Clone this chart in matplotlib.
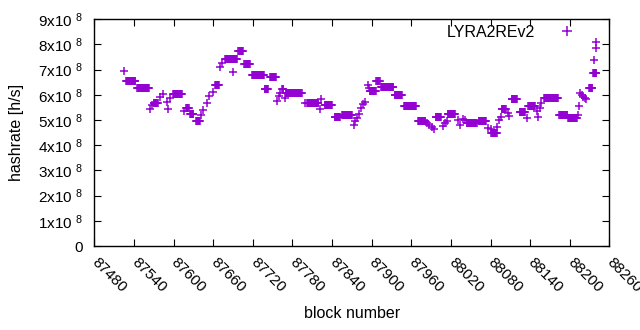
import numpy as np
import matplotlib
matplotlib.use("Agg")
import matplotlib.pyplot as plt

plt.rcParams['font.family'] = ['Liberation Sans', 'DejaVu Sans']
plt.rcParams['mathtext.fontset'] = 'custom'
plt.rcParams['mathtext.rm'] = 'Liberation Sans'
plt.rcParams['mathtext.it'] = 'Liberation Sans'
plt.rcParams['mathtext.default'] = 'regular'

series_name = "LYRA2REv2"
# runs of consecutive blocks sharing the same hashrate (value in units of 1e8 h/s)
run_start = [87525, 87528, 87545, 87564, 87567, 87570, 87579, 87584, 87590, 87591,
             87595, 87599, 87616, 87619, 87625, 87634, 87642, 87645, 87650, 87654,
             87659, 87663, 87670, 87673, 87678, 87690, 87698, 87707, 87719, 87738,
             87746, 87757, 87759, 87761, 87764, 87769, 87770, 87799, 87802, 87821,
             87824, 87829, 87844, 87855, 87873, 87875, 87878, 87881, 87884, 87887,
             87890, 87894, 87896, 87897, 87907, 87914, 87935, 87949, 87970, 87983,
             87987, 87991, 87994, 87997, 88008, 88011, 88014, 88015, 88031, 88034,
             88038, 88041, 88044, 88062, 88076, 88080, 88081, 88090, 88093, 88096,
             88097, 88106, 88108, 88112, 88124, 88135, 88137, 88150, 88152, 88155,
             88157, 88161, 88184, 88197, 88212, 88214, 88216, 88218, 88220, 88223,
             88225, 88229, 88235, 88237, 88239, 88240]
run_end = [87525, 87542, 87563, 87564, 87567, 87576, 87579, 87584, 87590, 87591,
           87595, 87613, 87616, 87623, 87630, 87640, 87642, 87645, 87650, 87654,
           87659, 87669, 87670, 87673, 87696, 87690, 87705, 87716, 87737, 87743,
           87755, 87757, 87759, 87761, 87766, 87769, 87794, 87799, 87819, 87821,
           87824, 87840, 87852, 87870, 87873, 87875, 87878, 87881, 87884, 87887,
           87890, 87894, 87896, 87906, 87912, 87933, 87946, 87967, 87981, 87983,
           87987, 87991, 87994, 88005, 88008, 88011, 88014, 88026, 88031, 88034,
           88038, 88041, 88059, 88073, 88076, 88080, 88089, 88090, 88093, 88096,
           88103, 88106, 88108, 88120, 88132, 88135, 88147, 88150, 88152, 88155,
           88157, 88182, 88196, 88211, 88212, 88214, 88216, 88218, 88220, 88223,
           88225, 88234, 88240, 88237, 88239, 88240]
run_value = [6.96, 6.54, 6.29, 5.44, 5.60, 5.69, 5.92, 6.02, 5.72, 5.44,
             5.86, 6.03, 5.36, 5.46, 5.22, 4.98, 5.20, 5.40, 5.69, 5.95,
             6.11, 6.39, 7.09, 7.27, 7.42, 6.89, 7.74, 7.22, 6.77, 6.23,
             6.69, 5.77, 5.95, 6.07, 6.22, 5.86, 6.09, 5.67, 5.69, 5.42,
             5.83, 5.60, 5.11, 5.19, 4.80, 4.96, 5.08, 5.23, 5.48, 5.63,
             5.71, 6.39, 6.27, 6.14, 6.55, 6.31, 5.99, 5.54, 4.97, 4.87,
             4.80, 4.73, 4.63, 5.13, 4.76, 4.88, 4.96, 5.24, 5.00, 4.80,
             5.04, 5.00, 4.87, 4.96, 4.70, 4.64, 4.47, 4.72, 5.00, 5.12,
             5.42, 5.28, 5.17, 5.82, 5.33, 5.09, 5.56, 5.37, 5.11, 5.46,
             5.66, 5.86, 5.19, 5.09, 5.20, 5.56, 6.06, 6.01, 5.92, 5.89,
             5.83, 6.28, 6.85, 7.37, 7.85, 8.08]

x_ticks = list(range(87480, 88261, 60))
y_ticks = [0, 1, 2, 3, 4, 5, 6, 7, 8, 9]
y_tick_labels = ['0'] + [r'%dx10 $^{8}$' % k for k in range(1, 10)]

blocks = []
rates = []
for s, e, v in zip(run_start, run_end, run_value):
    for b in range(s, e + 1):
        blocks.append(b)
        rates.append(v * 1e8)

fig = plt.figure(figsize=(6.4, 3.3), dpi=100)
ax = fig.add_axes([0.1473, 0.2545, 0.805, 0.6873])
color = '#9400d3'
ax.plot(blocks, rates, linestyle='none', marker='+', markersize=6.0,
        markeredgewidth=1.1, color=color, label=series_name)

ax.set_xlim(87480, 88260)
ax.set_ylim(0, 9e8)
ax.set_xticks(x_ticks)
ax.set_xticklabels([str(t) for t in x_ticks], rotation=-45, ha='left', va='center',
                   rotation_mode='anchor')
ax.set_yticks([t * 1e8 for t in y_ticks])
ax.set_yticklabels(y_tick_labels)
ax.tick_params(direction='in', top=True, right=True, length=5, width=0.8,
               labelsize=11, colors='black')
ax.tick_params(axis='x', pad=10)
ax.tick_params(axis='y', pad=8)
for sp in ax.spines.values():
    sp.set_linewidth(1.0)

ax.set_xlabel('block number', fontsize=11.5, labelpad=8)
ax.set_ylabel('hashrate [h/s]', fontsize=11.5, labelpad=10)

ax.legend(loc='upper right', bbox_to_anchor=(0.949, 0.975), frameon=False,
          markerfirst=False, borderaxespad=0, borderpad=0, handletextpad=1.0,
          handlelength=2.0, fontsize=11.5, numpoints=1, markerscale=1.2)

fig.savefig('out.png', dpi=100)
